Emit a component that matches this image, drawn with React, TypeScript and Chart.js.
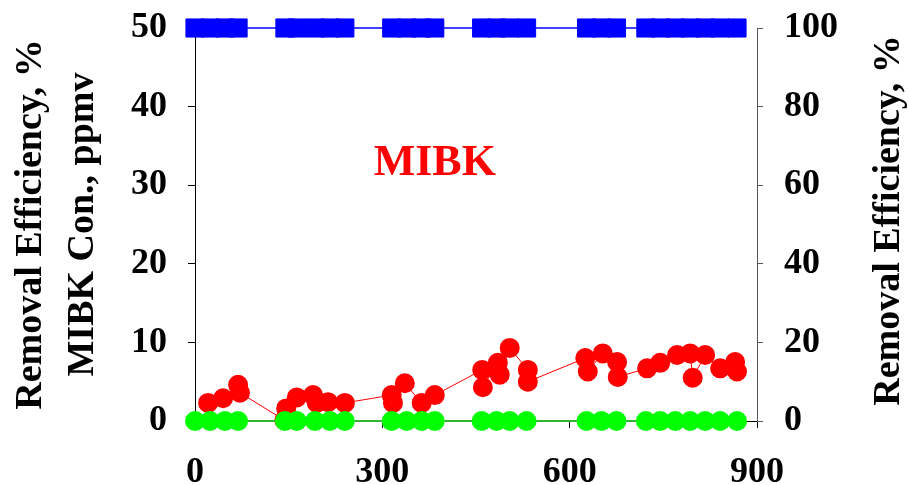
import React, { useEffect, useRef } from 'react';
import { Chart, registerables } from 'chart.js';

Chart.register(...registerables);

const FONT = '"Liberation Serif", "Times New Roman", Times, serif';

// Time (x) of the outlet / removal-efficiency samples
const effTime = [0, 24, 48, 69, 144, 163, 192, 216, 240, 315, 339, 363, 384, 459, 483, 504, 531, 627, 651, 675, 722, 745, 769, 793, 817, 841, 868];
// Removal efficiency, % (right axis)
const removalEff = [100, 100, 100, 100, 100, 100, 100, 100, 100, 100, 100, 100, 100, 100, 100, 100, 100, 100, 100, 100, 100, 100, 100, 100, 100, 100, 100];
// Outlet MIBK concentration, ppmv (left axis)
const outletConc = [0, 0, 0, 0, 0, 0, 0, 0, 0, 0, 0, 0, 0, 0, 0, 0, 0, 0, 0, 0, 0, 0, 0, 0, 0, 0, 0];

// Inlet MIBK concentration samples
const inletTime = [21, 45, 69, 72, 143, 146, 163, 189, 195, 213, 240, 315, 317, 336, 363, 384, 460, 461, 485, 488, 504, 533, 533, 625, 629, 653, 676, 677, 724, 745, 772, 793, 797, 817, 841, 865, 868];
const inletConc = [2.3, 2.9, 4.6, 3.6, 0.1, 1.6, 3.0, 3.3, 2.3, 2.4, 2.3, 3.3, 2.3, 4.8, 2.3, 3.3, 6.5, 4.3, 7.4, 5.9, 9.3, 6.5, 5.0, 8.0, 6.3, 8.6, 7.5, 5.6, 6.7, 7.4, 8.4, 8.6, 5.5, 8.4, 6.7, 7.5, 6.3];

const xTicks = [0, 300, 600, 900];
const leftTicks = [0, 10, 20, 30, 40, 50];
const rightTicks = [0, 20, 40, 60, 80, 100];

const leftTitle = ['Removal Efficiency, %', 'MIBK Con., ppmv'];
const rightTitle = 'Removal Efficiency, %';
const compoundLabel = 'MIBK';
const labelPos = { x: 384, y: 32.7 };

const extraText = {
  id: 'extraText',
  afterDraw(chart: any) {
    const { ctx, scales } = chart;
    ctx.save();
    ctx.fillStyle = '#ff0000';
    ctx.font = `bold 44px ${FONT}`;
    ctx.textAlign = 'center';
    ctx.textBaseline = 'middle';
    ctx.fillText(compoundLabel, scales.x.getPixelForValue(labelPos.x), scales.y.getPixelForValue(labelPos.y));
    ctx.restore();

    ctx.save();
    ctx.fillStyle = '#000';
    ctx.font = `bold 38px ${FONT}`;
    ctx.textAlign = 'center';
    ctx.textBaseline = 'middle';
    const cy = (chart.chartArea.top + chart.chartArea.bottom) / 2 - 4;
    ctx.translate(889, cy);
    ctx.rotate(-Math.PI / 2);
    ctx.fillText(rightTitle, 0, 0);
    ctx.restore();
  },
};

export default function App() {
  const ref = useRef<HTMLCanvasElement>(null);
  useEffect(() => {
    document.body.style.margin = '0';
    const tickFont = { family: FONT, size: 36, weight: 'bold' as const };
    const chart = new Chart(ref.current!, {
      type: 'line',
      data: {
        datasets: [
          {
            label: 'Outlet',
            data: effTime.map((t, i) => ({ x: t, y: outletConc[i] })),
            yAxisID: 'y',
            borderColor: '#2fb52f',
            borderWidth: 2,
            backgroundColor: '#00ff00',
            pointBackgroundColor: '#00ff00',
            pointBorderColor: '#00ff00',
            pointRadius: 9,
            pointBorderWidth: 2,
            order: 0,
            clip: false as any,
          },
          {
            label: 'Inlet',
            data: inletTime.map((t, i) => ({ x: t, y: inletConc[i] })),
            yAxisID: 'y',
            borderColor: '#ff0000',
            borderWidth: 1,
            backgroundColor: '#ff0000',
            pointBackgroundColor: '#ff0000',
            pointBorderColor: '#ff0000',
            pointRadius: 9,
            pointBorderWidth: 2,
            order: 1,
            clip: false as any,
          },
          {
            label: 'Removal',
            data: effTime.map((t, i) => ({ x: t, y: removalEff[i] })),
            yAxisID: 'y2',
            borderColor: '#0000ff',
            borderWidth: 1.5,
            backgroundColor: '#0000ff',
            pointBackgroundColor: '#0000ff',
            pointBorderColor: '#0000ff',
            pointStyle: 'rect',
            pointRadius: 12.8,
            pointBorderWidth: 1,
            order: 2,
            clip: false as any,
          },
        ],
      },
      options: {
        responsive: false,
        animation: false,
        layout: { padding: { top: 28, left: 0, right: 0, bottom: 0 } },
        plugins: { legend: { display: false }, tooltip: { enabled: false } },
        elements: { line: { tension: 0 } },
        scales: {
          x: {
            type: 'linear',
            min: 0,
            max: 900,
            afterBuildTicks: (s: any) => { s.ticks = xTicks.map((v) => ({ value: v })); },
            ticks: { font: tickFont, color: '#000', padding: 23, maxRotation: 0 },
            grid: { drawOnChartArea: false, drawTicks: true, tickLength: 7, color: '#000' },
            border: { display: true, color: '#000' },
            afterFit: (s: any) => { s.height = 64; s.paddingLeft = 0; s.paddingRight = 0; },
          },
          y: {
            position: 'left',
            min: 0,
            max: 50,
            afterBuildTicks: (s: any) => { s.ticks = leftTicks.map((v) => ({ value: v })); },
            ticks: { font: tickFont, color: '#000', padding: 21 },
            grid: { drawOnChartArea: false, drawTicks: true, tickLength: 7, color: '#000' },
            border: { display: true, color: '#000' },
            title: {
              display: true,
              text: leftTitle,
              color: '#000',
              font: { family: FONT, size: 38, weight: 'bold', lineHeight: 1.37 },
              padding: { top: 5, bottom: 0 },
            },
            afterFit: (s: any) => { s.width = 195; s.paddingTop = 0; s.paddingBottom = 0; },
          },
          y2: {
            position: 'right',
            min: 0,
            max: 100,
            afterBuildTicks: (s: any) => { s.ticks = rightTicks.map((v) => ({ value: v })); },
            ticks: { font: tickFont, color: '#000', padding: 21 },
            grid: { drawOnChartArea: false, drawTicks: true, tickLength: 6, color: '#555' },
            border: { display: true, color: '#555' },
            afterFit: (s: any) => { s.width = 152; s.paddingTop = 0; s.paddingBottom = 0; },
          },
        },
      },
      plugins: [extraText],
    });
    return () => chart.destroy();
  }, []);
  return (
    <div style={{ width: 909, height: 485 }}>
      <canvas ref={ref} width={909} height={485} style={{ display: 'block' }} />
    </div>
  );
}
